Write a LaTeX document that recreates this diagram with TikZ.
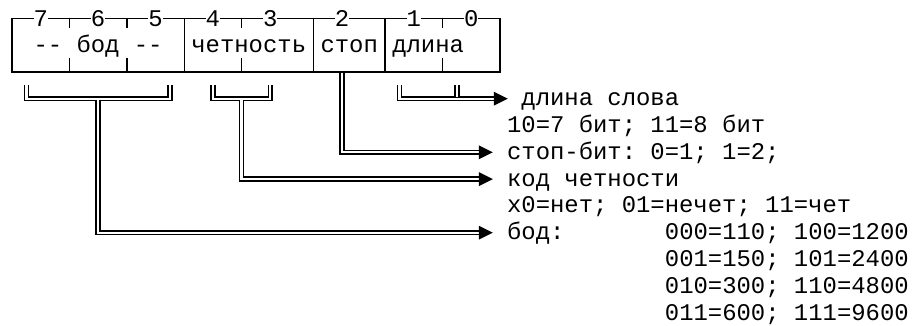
\documentclass[tikz,border=0pt]{standalone}
\usepackage{fontspec}
\newfontfamily\mono{Liberation Mono}
\begin{document}
\begin{tikzpicture}[x=1pt,y=-1pt,
  every node/.style={inner sep=0pt, outer sep=0pt, font=\mono\fontsize{23.9}{26}\selectfont\frenchspacing},
  txt/.style={anchor=base west},
  digit/.style={fill=white, minimum width=14.35pt, anchor=center},
  boxline/.style={line width=1.4pt},
  dbl/.style={draw, line width=1.6pt, double=white, double distance=2.3pt},
  tip/.style={fill=black}]
\useasboundingbox (0,0) rectangle (914,326);
% ---- register box
\coordinate (tl) at (12,18.3);
\coordinate (br) at (499.9,71.9);
\draw[boxline] (tl) rectangle (br);
\foreach \x in {184.2,313.35,385.1} \draw[boxline] (\x,18.3) -- (\x,71.9);
\foreach \x in {69.4,126.8,241.6,442.5} {
  \draw[boxline] (\x,18.3) -- (\x,28.3);
  \draw[boxline] (\x,58.5) -- (\x,71.9);
}
\foreach \d/\x in {7/40.7,6/98.1,5/155.5,4/212.9,3/270.3,2/342.05,1/413.8,0/471.2}
  \node[digit] (d\d) at (\x,18.3) {\d};
\node[txt] (fbod) at (33.525,52.1) {-\kern0pt- бод -\kern0pt-};
\node[txt] (fchet) at (191.375,52.1) {четность};
\node[txt] (fstop) at (320.525,52.1) {стоп};
\node[txt] (fdl) at (392.275,52.1) {длина};
% ---- descriptions
\node[txt] (tdl) at (521.425,105.7) {длина слова};
\node[txt] (tdl2) at (507.075,132.5) {10=7 бит; 11=8 бит};
\node[txt] (tstop) at (507.075,159.3) {стоп-бит: 0=1; 1=2;};
\node[txt] (tchet) at (507.075,186.1) {код четности};
\node[txt] (tchet2) at (507.075,212.9) {x0=нет; 01=нечет; 11=чет};
\node[txt] (tbod) at (507.075,239.7) {бод:};
\node[txt] (tb1) at (664.925,239.7) {000=110; 100=1200};
\node[txt] (tb2) at (664.925,266.5) {001=150; 101=2400};
\node[txt] (tb3) at (664.925,293.3) {010=300; 110=4800};
\node[txt] (tb4) at (664.925,320.1) {011=600; 111=9600};
% ---- connectors
% baud
\coordinate (b1) at (26.35,85.3);
\coordinate (b2) at (169.85,85.3);
\coordinate (bs) at (98.1,100.0);
\coordinate (bc) at (98.1,232.7);
\coordinate (ba) at (478.8,232.7);
\draw[dbl] (b1) -- (b1 |- 0,98.7) -- (b2 |- 0,98.7) -- (b2);
\draw[dbl] (bs) -- (bc) -- (ba);
\fill[tip] (ba) ++(0,-7) -- ++(14,7) -- ++(-14,7) -- cycle;
% parity
\coordinate (c1) at (212.9,85.3);
\coordinate (c2) at (270.3,85.3);
\coordinate (cs) at (241.6,100.0);
\coordinate (cc) at (241.6,179.1);
\coordinate (ca) at (478.8,179.1);
\draw[dbl] (c1) -- (c1 |- 0,98.7) -- (c2 |- 0,98.7) -- (c2);
\draw[dbl] (cs) -- (cc) -- (ca);
\fill[tip] (ca) ++(0,-7) -- ++(14,7) -- ++(-14,7) -- cycle;
% stop
\coordinate (ss) at (342.05,72.6);
\coordinate (sc) at (342.05,152.3);
\coordinate (sa) at (478.8,152.3);
\draw[dbl] (ss) -- (sc) -- (sa);
\fill[tip] (sa) ++(0,-7) -- ++(14,7) -- ++(-14,7) -- cycle;
% length
\coordinate (l1) at (399.45,85.3);
\coordinate (l2) at (456.85,85.3);
\coordinate (la) at (493.8,98.7);
\draw[dbl] (l1) -- (l1 |- la) -- (la);
\draw[dbl] (l2) -- (456.85,97.3);
\fill[tip] (la) ++(0,-7) -- ++(14,7) -- ++(-14,7) -- cycle;
\end{tikzpicture}
\end{document}
